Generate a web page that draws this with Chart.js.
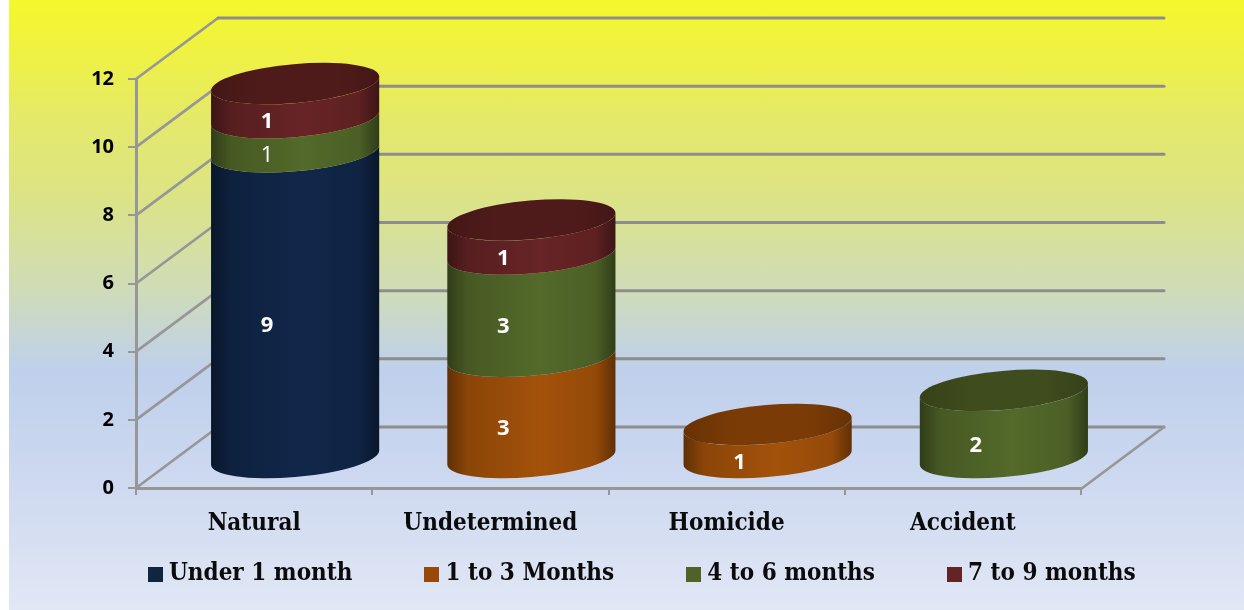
<!DOCTYPE html>
<html><head><meta charset="utf-8">
<style>
html,body{margin:0;padding:0;background:#fff;width:1244px;height:610px;overflow:hidden}
#bg{position:absolute;left:9px;top:0;width:1235px;height:610px;
background:linear-gradient(180deg,#f5f72d 0,#eef146 60px,#e4e96a 120px,#dde482 190px,#cfdcb8 290px,#bfd0ec 370px,#c9d6ef 450px,#e1e7f5 610px)}
canvas{position:absolute;left:0;top:0}
</style>
<script src="https://cdn.jsdelivr.net/npm/chart.js@4"></script>
</head><body>
<div id="bg"></div>
<canvas id="c" width="1244" height="610"></canvas>
<script>
const categories = ['Natural','Undetermined','Homicide','Accident'];
const under1Month = [9,0,0,0];
const oneTo3Months = [0,3,1,0];
const fourTo6Months = [1,3,0,2];
const sevenTo9Months = [1,1,0,0];
const seriesNames = ['Under 1 month','1 to 3 Months','4 to 6 months','7 to 9 months'];
const seriesColors = ['#11274a','#a4520a','#536a2a','#682426'];
const legendColors = ['#10263f','#984807','#4f6228','#632423'];
const capColors = ['#0c1d33','#7a3b06','#3f4c1d','#4f1b1a'];
const thinLabels = [{series:2,index:0}];

const DEPTH_X = 82, DEPTH_Y = -61;
const CYL_DX = 41, CYL_DY = -29.5;
const TILT = -5 * Math.PI / 180;
const LABEL_DX = 13, LABEL_DY = -8;
const AXIS_COLOR = '#979797', WALL_COLOR = '#8d8d8d';

function shade(hex, k){
  const n = parseInt(hex.slice(1),16);
  const c = [n>>16&255,n>>8&255,n&255].map(v=>Math.round(v*k));
  return 'rgb('+c.join(',')+')';
}
function sideGrad(ctx, x0, x1, color){
  const g = ctx.createLinearGradient(x0,0,x1,0);
  g.addColorStop(0,shade(color,.58));
  g.addColorStop(.12,shade(color,.84));
  g.addColorStop(.55,shade(color,1));
  g.addColorStop(.88,shade(color,.9));
  g.addColorStop(1,shade(color,.58));
  return g;
}
const cylinders = {
  id:'cylinders',
  afterLayout(chart){
    const L = chart.legend, o = L.options.labels;
    const fs = o.font.size, w = o.pointStyleWidth;
    L.left = 155.5 - w/2 - o.padding;
    L.right = 1244;
    L.top = 574 - fs/2 - o.padding;
    L.bottom = 610;
  },
  beforeDatasetsDraw(chart){
    const {ctx, scales:{x,y}} = chart;
    const left = x.left, right = x.right;
    ctx.save();
    ctx.lineCap='round';
    y.ticks.forEach(t=>{
      const py = y.getPixelForValue(t.value);
      ctx.strokeStyle = AXIS_COLOR; ctx.lineWidth = 2.8;
      ctx.beginPath(); ctx.moveTo(left,py); ctx.lineTo(left+DEPTH_X,py+DEPTH_Y); ctx.stroke();
      ctx.strokeStyle = WALL_COLOR; ctx.lineWidth = 3;
      ctx.beginPath(); ctx.moveTo(left+DEPTH_X,py+DEPTH_Y); ctx.lineTo(right+DEPTH_X+1,py+DEPTH_Y); ctx.stroke();
    });
    const p0 = y.getPixelForValue(0);
    ctx.strokeStyle = AXIS_COLOR; ctx.lineWidth = 2.8;
    ctx.beginPath(); ctx.moveTo(right,p0+1); ctx.lineTo(right+DEPTH_X+1,p0+DEPTH_Y); ctx.stroke();
    ctx.restore();

    const metas = chart.data.datasets.map((d,i)=>chart.getDatasetMeta(i));
    categories.forEach((cat,idx)=>{
      let topSeries = -1;
      metas.forEach((m,s)=>{ if(chart.data.datasets[s].data[idx]>0) topSeries = s; });
      metas.forEach((m,s)=>{
        if(!(chart.data.datasets[s].data[idx]>0)) return;
        const el = m.data[idx];
        const hw = el.width/2, cx = el.x+CYL_DX;
        const yTop = el.y+CYL_DY, yBot = el.base+CYL_DY;
        const a = hw*1.004, b = hw*.232;
        const t0 = Math.atan(-(b/a)*Math.tan(TILT));
        ctx.save();
        ctx.beginPath();
        ctx.ellipse(cx,yTop,a,b,TILT,t0,t0+Math.PI,false);
        ctx.ellipse(cx,yBot,a,b,TILT,t0+Math.PI,t0,true);
        ctx.closePath();
        ctx.fillStyle = sideGrad(ctx,cx-hw,cx+hw,seriesColors[s]);
        ctx.fill();
        if(s===topSeries){
          ctx.beginPath();
          ctx.ellipse(cx,yTop,a,b,TILT,0,Math.PI*2);
          const g = ctx.createLinearGradient(cx-hw,0,cx+hw,0);
          g.addColorStop(0,shade(capColors[s],.85));
          g.addColorStop(.3,capColors[s]);
          g.addColorStop(.75,capColors[s]);
          g.addColorStop(1,shade(capColors[s],.85));
          ctx.fillStyle = g;
          ctx.fill();
        }
        ctx.restore();
      });
    });
  },
  beforeDatasetDraw(){ return false; },
  afterDatasetsDraw(chart){
    const ctx = chart.ctx;
    chart.data.datasets.forEach((d,s)=>{
      const m = chart.getDatasetMeta(s);
      d.data.forEach((v,i)=>{
        if(!(v>0)) return;
        const el = m.data[i];
        const thin = thinLabels.some(t=>t.series===s&&t.index===i);
        ctx.save();
        ctx.fillStyle='#fff';
        ctx.font=(thin?'400':'700')+' 22px "Open Sans"';
        ctx.textAlign='center'; ctx.textBaseline='middle';
        ctx.fillText(String(v),el.x+LABEL_DX,(el.y+el.base)/2+LABEL_DY);
        ctx.restore();
      });
    });
  }
};
function swatch(color){
  const c = document.createElement('canvas'); c.width=15; c.height=15;
  const g = c.getContext('2d'); g.fillStyle=color; g.fillRect(0,0,15,15);
  return c;
}
const SERIF = '"DejaVu Serif Condensed","DejaVu Serif"';
new Chart(document.getElementById('c'),{
  type:'bar',
  data:{labels:categories,datasets:[under1Month,oneTo3Months,fourTo6Months,sevenTo9Months].map((data,i)=>({
    label:seriesNames[i],data,backgroundColor:legendColors[i],borderWidth:0,
    barPercentage:1,categoryPercentage:.7115
  }))},
  plugins:[cylinders],
  options:{
    responsive:false,animation:false,
    layout:{padding:{left:0,right:163,top:79,bottom:0}},
    plugins:{
      tooltip:{enabled:false},
      legend:{display:true,position:'bottom',align:'start',maxHeight:20,
        labels:{usePointStyle:true,pointStyleWidth:3,padding:78,color:'#0b0b0b',
          font:{family:SERIF,size:24,weight:'700'},
          generateLabels(chart){
            return Chart.defaults.plugins.legend.labels.generateLabels(chart).map((it,i)=>{
              it.pointStyle = swatch(legendColors[i]); return it;
            });
          }}}
    },
    scales:{
      x:{stacked:true,
        afterFit(s){s.height=102;},
        grid:{drawOnChartArea:false,drawTicks:true,tickLength:7,color:AXIS_COLOR,lineWidth:2},
        border:{display:true,color:AXIS_COLOR,width:3},
        ticks:{color:'#0b0b0b',padding:14,maxRotation:0,autoSkip:false,font:{family:SERIF,size:24,weight:'700'}}
      },
      y:{stacked:true,min:0,max:12,
        afterFit(s){s.width=136;},
        grid:{drawOnChartArea:false,drawTicks:true,tickLength:8,color:AXIS_COLOR,lineWidth:2},
        border:{display:true,color:AXIS_COLOR,width:3},
        ticks:{stepSize:2,color:'#000',padding:14,font:{family:'"Open Sans"',size:20,weight:'700'}}
      }
    }
  }
});
</script>
</body></html>
